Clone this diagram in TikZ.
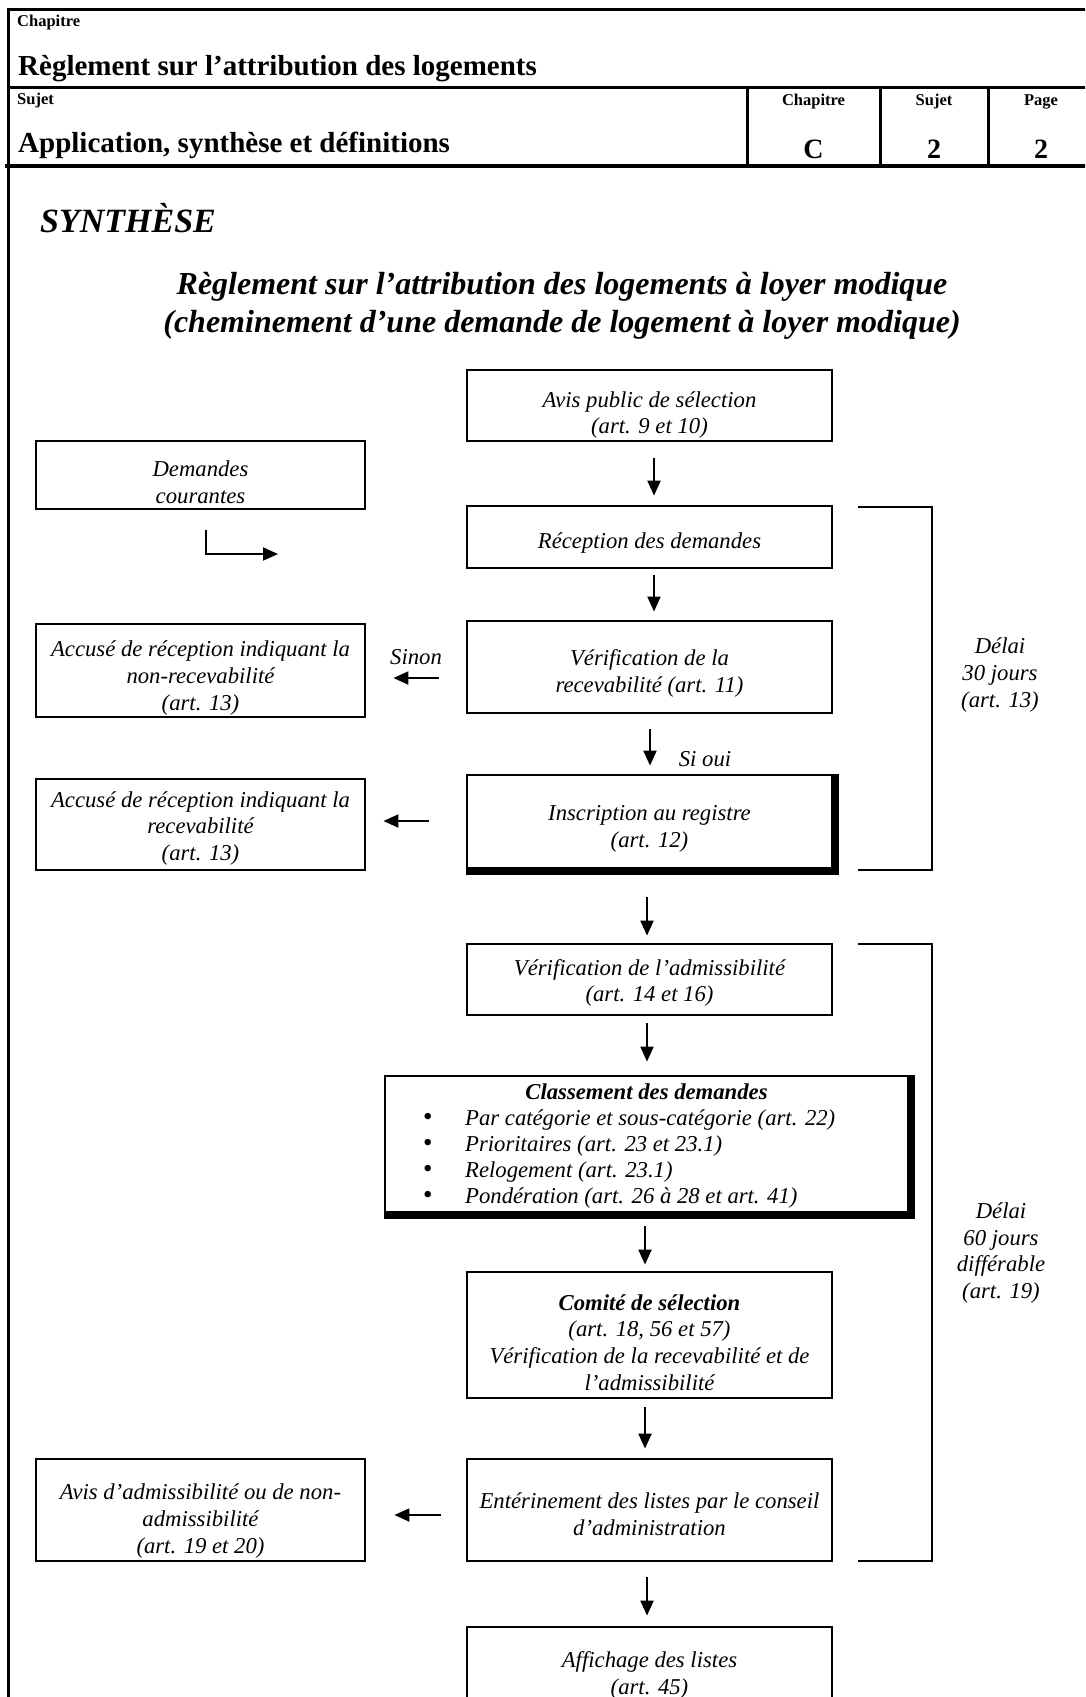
\documentclass[tikz,border=0pt]{standalone}
\usepackage{fontspec}
\setmainfont{Liberation Serif}
\usetikzlibrary{arrows.meta,calc}
\newcommand{\bul}{\makebox[43pt][l]{\hspace{1pt}\upshape\fontsize{27}{27}\selectfont\textbullet}}
\begin{document}
\begin{tikzpicture}[x=1pt,y=-1pt,
  box/.style={draw,line width=2.8pt,inner sep=0pt,minimum width=365pt},
  lbox/.style={draw,line width=2.8pt,inner sep=0pt,minimum width=329pt},
  body/.style={align=center,inner sep=0pt,font=\fontsize{22.7}{26.8}\selectfont\itshape},
  bodyl/.style={inner sep=0pt,anchor=base west,font=\fontsize{22.7}{26.8}\selectfont\itshape},
  arr/.style={line width=2pt,-{Triangle[length=15pt,width=13pt]}},
  brk/.style={line width=2.8pt,line join=miter},
  rule/.style={line width=3pt},
  hsmall/.style={inner sep=0pt,font=\fontsize{16.5}{19}\selectfont\bfseries},
  hbig/.style={inner sep=0pt,font=\fontsize{29}{33}\selectfont\bfseries},
  hval/.style={inner sep=0pt,font=\fontsize{28}{32}\selectfont\bfseries},
  ttl/.style={inner sep=0pt,font=\fontsize{32}{38}\selectfont\bfseries\itshape},
]
\useasboundingbox (0,0) rectangle (1085,1697);
\fill[white] (0,0) rectangle (1085,1697);
\clip (0,0) rectangle (1085,1697);

% ---------- frame and header ----------
\draw[rule] (7,9) -- (1095,9);
\draw[rule] (8.5,7.5) -- (8.5,1705);
\draw[line width=2.5pt] (8.5,87.5) -- (1095,87.5);
\draw[line width=4pt] (5,166) -- (1095,166);
\draw[rule] (747,87.5) -- (747,166);
\draw[rule] (880,87.5) -- (880,166);
\draw[rule] (988,87.5) -- (988,166);

\node[hsmall,anchor=base west] (hchap) at (17,27) {Chapitre};
\node[hbig,anchor=base west] (htitle) at (18,75) {Règlement sur l’attribution des logements};
\node[hsmall,anchor=base west] (hsujet) at (17,104) {Sujet};
\node[hbig,anchor=base west] (hsub) at (18,152) {Application, synthèse et définitions};
\node[hsmall,anchor=base] (cchap) at (813.5,105) {Chapitre};
\node[hsmall,anchor=base] (csuj) at (934,105) {Sujet};
\node[hsmall,anchor=base] (cpage) at (1041,105) {Page};
\node[hval,anchor=base] (vchap) at (813.5,158) {C};
\node[hval,anchor=base] (vsuj) at (934,158) {2};
\node[hval,anchor=base] (vpage) at (1041,158) {2};

% ---------- titles ----------
\node[inner sep=0pt,anchor=base west,font=\fontsize{34}{40}\selectfont\bfseries\itshape] (synth) at (40,232) {SYNTHÈSE};
\node[ttl,anchor=base] (t1) at (562,294) {Règlement sur l’attribution des logements à loyer modique};
\node[ttl,anchor=base] (t2) at (562,332) {(cheminement d’une demande de logement à loyer modique)};

% ---------- main column ----------
\node[box,minimum height=71pt] (avis) at (649.5,405.5) {};
\node[body] (avis-t) at (649.5,415) {Avis public de sélection\\(art. 9 et 10)};
\node[box,minimum height=62pt] (recep) at (649.5,537) {};
\node[body] (recep-t) at (649.5,543.5) {Réception des demandes};
\node[box,minimum height=92pt] (verif) at (649.5,667) {};
\node[body] (verif-t) at (649.5,673.5) {Vérification de la\\recevabilité (art. 11)};
\node[box,minimum height=93pt] (inscr) at (649.5,821.5) {};
\fill ([xshift=-1.4pt]inscr.north east) rectangle ([xshift=6pt,yshift=-6pt]inscr.south east);
\fill ([yshift=1.4pt]inscr.south west) rectangle ([xshift=6pt,yshift=-6pt]inscr.south east);
\node[body] (inscr-t) at (649.5,829) {Inscription au registre\\(art. 12)};
\node[box,minimum height=71pt] (vadm) at (649.5,979.5) {};
\node[body] (vadm-t) at (649.5,983) {Vérification de l’admissibilité\\(art. 14 et 16)};
\node[draw,line width=2.8pt,inner sep=0pt,minimum width=523pt,minimum height=136pt] (class) at (646.5,1144) {};
\fill ([xshift=-1.4pt]class.north east) rectangle ([xshift=6pt,yshift=-6pt]class.south east);
\fill ([yshift=1.4pt]class.south west) rectangle ([xshift=6pt,yshift=-6pt]class.south east);
\node[inner sep=0pt,anchor=base,font=\fontsize{22.7}{26.8}\selectfont\bfseries\itshape] (class-t) at (646.5,1099) {Classement des demandes};
\node[bodyl] (b1) at (422,1125) {\bul Par catégorie et sous-catégorie (art. 22)};
\node[bodyl] (b2) at (422,1151.3) {\bul Prioritaires (art. 23 et 23.1)};
\node[bodyl] (b3) at (422,1177.6) {\bul Relogement (art. 23.1)};
\node[bodyl] (b4) at (422,1203.9) {\bul Pondération (art. 26 à 28 et art. 41)};
\node[box,minimum height=126pt] (comite) at (649.5,1335) {};
\node[body] (comite-t) at (649.5,1342.5) {\textbf{Comité de sélection}\\(art. 18, 56 et 57)\\Vérification de la recevabilité et de\\l’admissibilité};
\node[box,minimum height=102pt] (enter) at (649.5,1510) {};
\node[body] (enter-t) at (649.5,1514.5) {Entérinement des listes par le conseil\\d’administration};
\node[box,minimum height=93pt] (affich) at (649.5,1673.5) {};
\node[body] (affich-t) at (649.5,1675.5) {Affichage des listes\\(art. 45)};

% ---------- left column ----------
\node[lbox,minimum height=68pt] (dem) at (200.5,475) {};
\node[body] (dem-t) at (200.5,482) {Demandes\\courantes};
\node[lbox,minimum height=93pt] (acc1) at (200.5,670.5) {};
\node[body] (acc1-t) at (200.5,678) {Accusé de réception indiquant la\\non-recevabilité\\(art. 13)};
\node[lbox,minimum height=91pt] (acc2) at (200.5,824.5) {};
\node[body] (acc2-t) at (200.5,828.5) {Accusé de réception indiquant la\\recevabilité\\(art. 13)};
\node[lbox,minimum height=102pt] (avadm) at (200.5,1510) {};
\node[body] (avadm-t) at (200.5,1521) {Avis d’admissibilité ou de non-\\admissibilité\\(art. 19 et 20)};

% ---------- labels ----------
\node[body] (sinon) at (416,657) {Sinon};
\node[body] (sioui) at (705,759) {Si oui};
\node[body] (d30) at (1000,675) {Délai\\30 jours\\(art. 13)};
\node[body] (d60) at (1001,1253) {Délai\\60 jours\\différable\\(art. 19)};

% ---------- arrows ----------
\draw[arr] ($(avis.south)+(4.5,16)$) -- ($(recep.north)+(4.5,-9)$);
\draw[arr] ($(recep.south)+(4.5,6)$) -- ($(verif.north)+(4.5,-8)$);
\draw[arr] ($(verif.south)+(0.5,15)$) -- ($(inscr.north)+(0.5,-8)$);
\draw[arr] ($(inscr.south)+(-2.5,28)$) -- ($(vadm.north)+(-2.5,-7)$);
\draw[arr] ($(vadm.south)+(-2.5,7)$) -- ($(class.north)+(0.5,-13)$);
\draw[arr] ($(class.south)+(-1.5,13)$) -- ($(comite.north)+(-4.5,-6)$);
\draw[arr] ($(comite.south)+(-4.5,8)$) -- ($(enter.north)+(-4.5,-9)$);
\draw[arr] ($(enter.south)+(-2.5,15)$) -- ($(affich.north)+(-2.5,-10)$);

\draw[arr] ($(verif.west)+(-27,11)$) -- ($(acc1.east)+(27,7.5)$);
\draw[arr] ($(inscr.west)+(-37,-0.5)$) -- ($(acc2.east)+(17,-3.5)$);
\draw[arr] ($(enter.west)+(-25,5)$) -- ($(avadm.east)+(28,5)$);

\coordinate (demend) at (278,554);
\draw[arr] ($(dem.south)+(5.5,20)$) |- (demend);

% ---------- brackets ----------
\draw[brk] (858,507) -| (932,870) -- (858,870);
\draw[brk] (858,944) -| (932,1561) -- (858,1561);
\end{tikzpicture}
\end{document}
